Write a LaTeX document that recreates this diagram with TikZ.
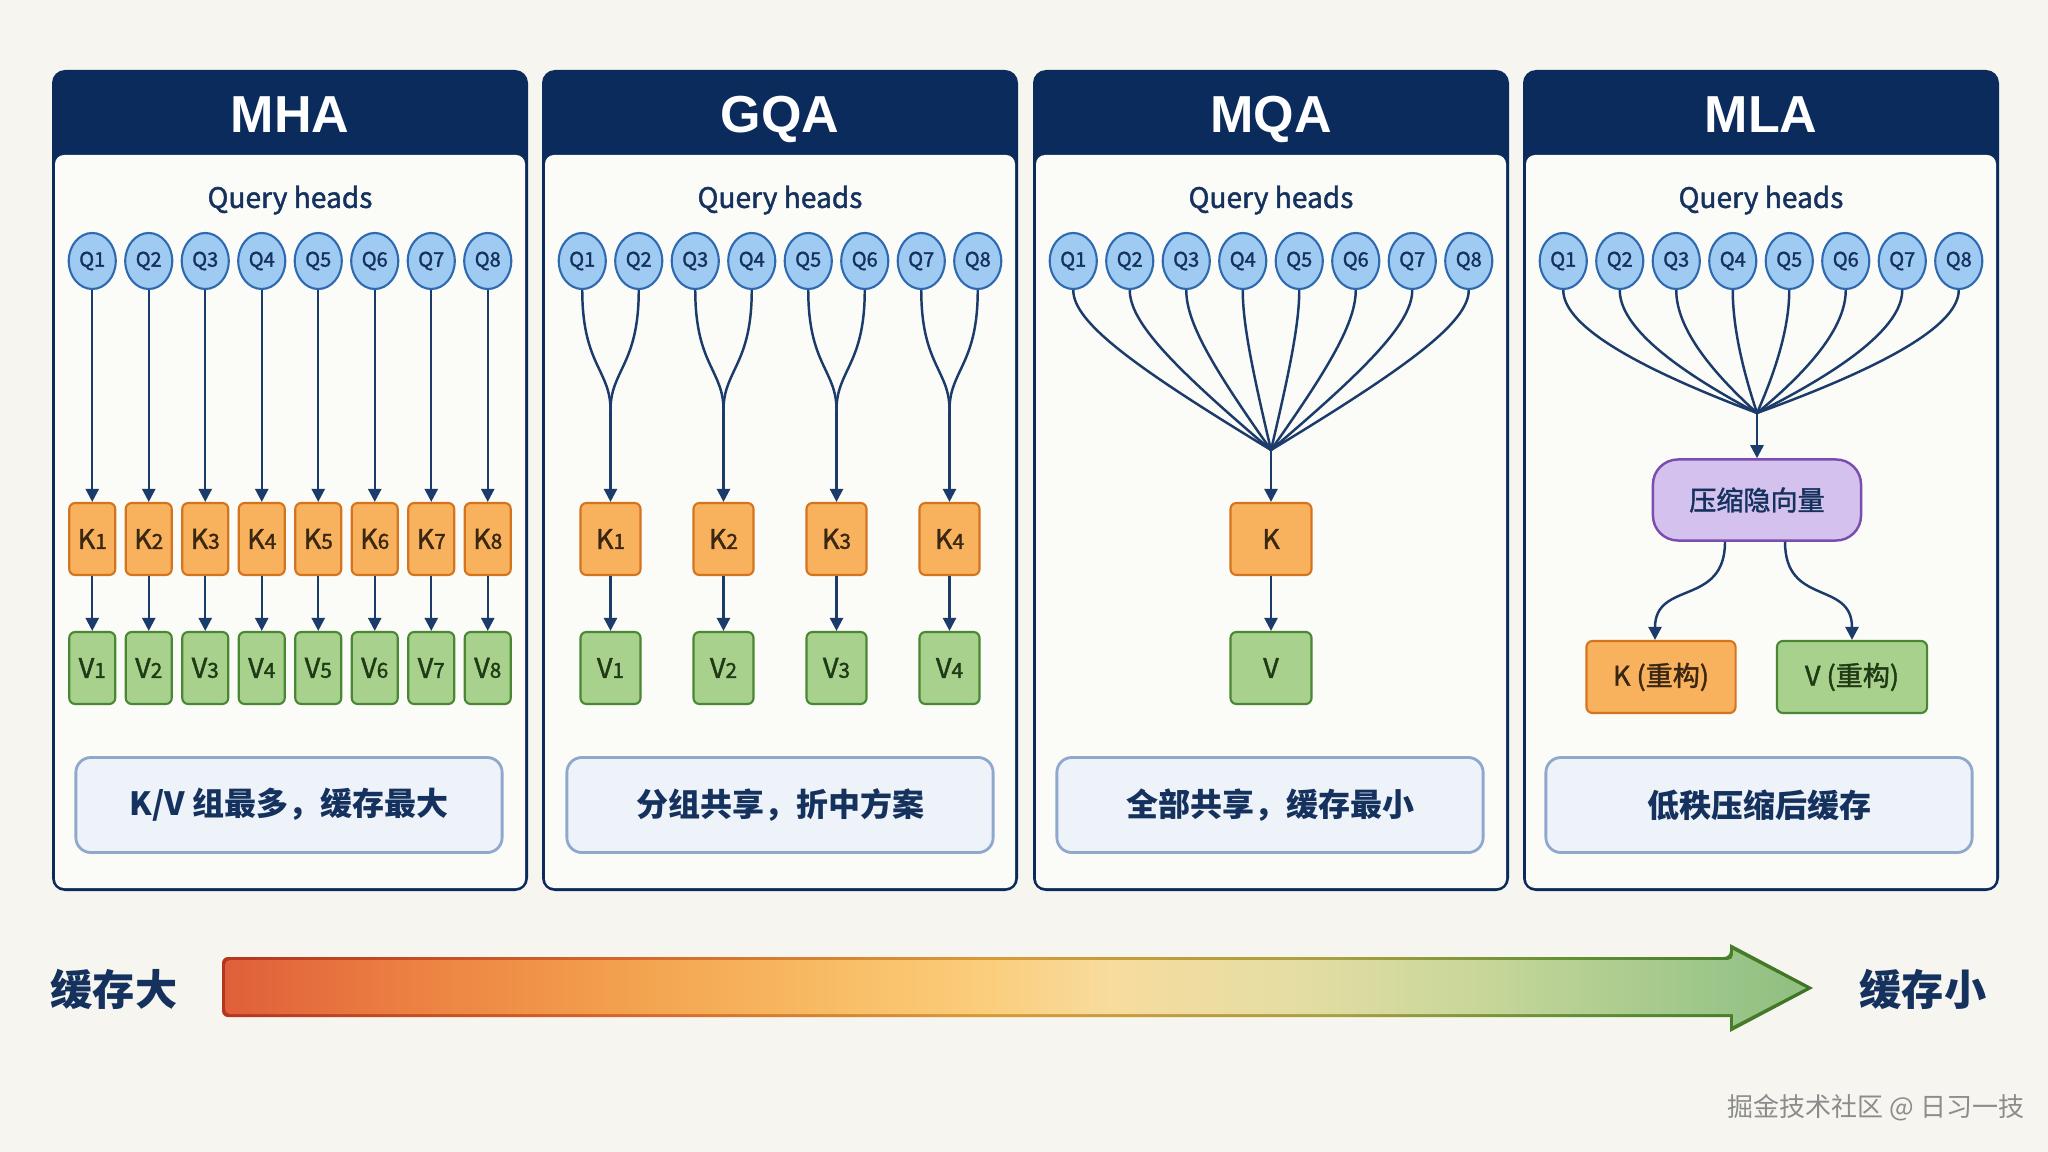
\documentclass[tikz,border=0pt]{standalone}
\usepackage{fontspec}
\setmainfont{Noto Sans CJK SC}
\newfontfamily\medfont{Noto Sans CJK SC}[FakeBold=1.6]
\newfontfamily\headfont{Liberation Sans}
\usepackage{tikz}
\usetikzlibrary{arrows.meta,calc,positioning,shapes.geometric}
\definecolor{paper}{HTML}{F6F5EF}
\definecolor{panelbg}{HTML}{FBFBF8}
\definecolor{navy}{HTML}{0B2B5C}
\definecolor{ink}{HTML}{15325E}
\definecolor{wireblue}{HTML}{1B3B6A}
\definecolor{qfill}{HTML}{9FCBF3}
\definecolor{qline}{HTML}{2E6AB0}
\definecolor{kfill}{HTML}{F8B15C}
\definecolor{kline}{HTML}{D5741E}
\definecolor{kink}{HTML}{3A2712}
\definecolor{vfill}{HTML}{A9D18E}
\definecolor{vline}{HTML}{4A8733}
\definecolor{vink}{HTML}{1F3A14}
\definecolor{lfill}{HTML}{D5C1EE}
\definecolor{lline}{HTML}{7A4DB0}
\definecolor{capfill}{HTML}{EEF3F9}
\definecolor{capline}{HTML}{8FA8CE}
% colours of the cache bar
\definecolor{g0}{HTML}{DF5F3A}
\definecolor{g1}{HTML}{EC8142}
\definecolor{g2}{HTML}{F4A550}
\definecolor{g3}{HTML}{F9BF69}
\definecolor{g4}{HTML}{FBCD7B}
\definecolor{g5}{HTML}{F7DC9E}
\definecolor{g6}{HTML}{E4DDA3}
\definecolor{g7}{HTML}{C6D699}
\definecolor{g8}{HTML}{9DC68A}
\definecolor{g9}{HTML}{90BF80}
\definecolor{e0}{HTML}{B5361C}
\definecolor{e1}{HTML}{D5642A}
\definecolor{e2}{HTML}{D99A35}
\definecolor{e3}{HTML}{A9A040}
\definecolor{e4}{HTML}{5E8E33}
\definecolor{e5}{HTML}{3B7324}
\pgfdeclarehorizontalshading{cachefill}{100bp}{color(0bp)=(g0); color(25bp)=(g0);
  color(31bp)=(g1); color(38.5bp)=(g2); color(45bp)=(g3); color(49bp)=(g4);
  color(53bp)=(g5); color(59bp)=(g6); color(65bp)=(g7); color(72bp)=(g8);
  color(75bp)=(g9); color(100bp)=(g9)}
\pgfdeclarehorizontalshading{cacheedge}{100bp}{color(0bp)=(e0); color(25bp)=(e0);
  color(37bp)=(e1); color(49bp)=(e2); color(60bp)=(e3); color(68bp)=(e4);
  color(75bp)=(e5); color(100bp)=(e5)}
\newcommand\idx[1]{{\fontsize{5.9}{6}\selectfont #1}}
\tikzset{
  paneltitle/.style={anchor=base,font=\headfont\bfseries\fontsize{14.8}{16}\selectfont,text=white},
  subtitle/.style={font=\medfont\fontsize{8}{9}\selectfont,text=ink},
  qhead/.style={ellipse,draw=qline,fill=qfill,line width=0.6pt,inner sep=0pt,
    minimum width=0.47cm,minimum height=0.56cm,text=ink,font=\medfont\fontsize{5.7}{6}\selectfont},
  kbox/.style={draw=kline,fill=kfill,rounded corners=0.06cm,line width=0.6pt,inner sep=0pt,
    minimum height=0.72cm,text=kink,font=\medfont\fontsize{7.7}{8}\selectfont},
  vbox/.style={kbox,draw=vline,fill=vfill,text=vink},
  latent/.style={draw=lline,fill=lfill,rounded corners=0.25cm,line width=0.7pt,
    minimum width=2.08cm,minimum height=0.81cm,text=ink,font=\medfont\fontsize{7.7}{8}\selectfont},
  capbox/.style={draw=capline,fill=capfill,rounded corners=0.15cm,line width=0.8pt,
    minimum width=4.26cm,minimum height=0.95cm,text=ink,font=\bfseries\fontsize{9.1}{10}\selectfont},
  endlabel/.style={text=ink,font=\bfseries\fontsize{12}{13}\selectfont},
  link/.style={draw=wireblue,line width=0.7pt},
  arr/.style={-{Triangle[length=0.13cm,width=0.13cm]}}
}

\begin{document}
\begin{tikzpicture}[x=0.01cm,y=-0.01cm]
  \useasboundingbox (0,0) rectangle (2048,1152);
  \fill[paper] (0,0) rectangle (2048,1152);

  % four panels
  \foreach \px/\name in {52/MHA,542/GQA,1033/MQA,1523/MLA}{
    \fill[navy,rounded corners=0.13cm] (\px,70) rectangle ++(476,821);
    \fill[panelbg,rounded corners=0.09cm] ({\px+3},155) rectangle ++(470,733);
    \node[paneltitle] (\name-t) at ({\px+238},133) {\name};
    \node[subtitle] (\name-s) at ({\px+238},200) {Query heads};
    \foreach \i in {1,...,8}
      \node[qhead] (\name-q\i) at ({\px+238+(\i-4.5)*56.5},261) {Q\i};
  }

  % MHA
  \foreach \i in {1,...,8}{
    \node[kbox,minimum width=0.46cm] (MHA-k\i) at ({290+(\i-4.5)*56.5},539) {K\idx{\i}};
    \node[vbox,minimum width=0.46cm] (MHA-v\i) at ({290+(\i-4.5)*56.5},668) {V\idx{\i}};
    \draw[link,arr] (MHA-q\i) -- (MHA-k\i);
    \draw[link,arr] (MHA-k\i) -- (MHA-v\i);
  }

  % GQA
  \foreach \j in {1,...,4}{
    \pgfmathtruncatemacro\qa{2*\j-1}
    \pgfmathtruncatemacro\qb{2*\j}
    \node[kbox,minimum width=0.6cm] (GQA-k\j) at ({780+(2*\j-5)*56.5},539) {K\idx{\j}};
    \node[vbox,minimum width=0.6cm] (GQA-v\j) at ({780+(2*\j-5)*56.5},668) {V\idx{\j}};
    \coordinate (GQA-m\j) at ({780+(2*\j-5)*56.5},410);
    \draw[link] (GQA-q\qa.south) .. controls +(0,75) and +(0,-40) .. (GQA-m\j);
    \draw[link] (GQA-q\qb.south) .. controls +(0,75) and +(0,-40) .. (GQA-m\j);
    \draw[link,arr] (GQA-m\j) -- (GQA-k\j);
    \draw[link,arr] (GQA-k\j) -- (GQA-v\j);
  }

  % MQA
  \node[kbox,minimum width=0.81cm] (MQA-k) at (1271,539) {K};
  \node[vbox,minimum width=0.81cm] (MQA-v) at (1271,668) {V};
  \coordinate (MQA-m) at (1271,450);
  \coordinate (MQA-row) at (0,330);
  \foreach \i in {1,...,8}
    \draw[link] (MQA-q\i.south) .. controls +(0,32)
      and ($(MQA-m)!0.7!(MQA-q\i.south |- MQA-row)$) .. (MQA-m);
  \draw[link,arr] (MQA-m) -- (MQA-k);
  \draw[link,arr] (MQA-k) -- (MQA-v);

  % MLA
  \node[latent] (MLA-c) at (1757,500) {压缩隐向量};
  \coordinate (MLA-m) at (1757,413);
  \coordinate (MLA-row) at (0,340);
  \foreach \i in {1,...,8}
    \draw[link] (MLA-q\i.south) .. controls +(0,32)
      and ($(MLA-m)!0.7!(MLA-q\i.south |- MLA-row)$) .. (MLA-m);
  \draw[link,arr] (MLA-m) -- (MLA-c);
  \node[kbox,minimum width=1.49cm] (MLA-k) at (1661,677) {K (重构)};
  \node[vbox,minimum width=1.5cm] (MLA-v) at (1852,677) {V (重构)};
  \draw[link,arr] ($(MLA-c.south)+(-32,0)$) .. controls +(0,65) and +(0,-60) .. ($(MLA-k.north)+(-6,0)$);
  \draw[link,arr] ($(MLA-c.south)+(28,0)$) .. controls +(0,65) and +(0,-60) .. (MLA-v.north);

  % notes under the panels
  \node[capbox] (MHA-n) at (289,805) {K/V 组最多，缓存最大};
  \node[capbox] (GQA-n) at (780,805) {分组共享，折中方案};
  \node[capbox] (MQA-n) at (1270,805) {全部共享，缓存最小};
  \node[capbox] (MLA-n) at (1759,805) {低秩压缩后缓存};

  % cache bar
  \path[shading=cacheedge] (1813,988) -- (1730,1032) -- (1730,1017) [rounded corners=0.06cm]
    -- (222,1017) -- (222,957) -- (1730,957) [sharp corners] -- (1730,944) -- cycle;
  \path[shading=cachefill] (1806,988) -- (1733,1026) -- (1733,1014) [rounded corners=0.05cm]
    -- (225,1014) -- (225,960) -- (1733,960) [sharp corners] -- (1733,950) -- cycle;
  \node[endlabel] (big) at (114,989) {缓存大};
  \node[endlabel] (small) at (1923,989) {缓存小};
  \node[font=\fontsize{7.4}{8}\selectfont,text=black!45] (mark) at (1876,1108) {掘金技术社区 @ 日习一技};
\end{tikzpicture}
\end{document}
